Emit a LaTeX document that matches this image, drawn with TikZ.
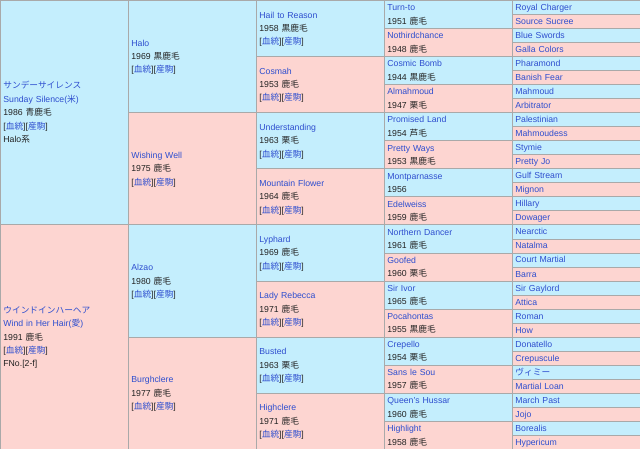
\documentclass[tikz,border=0pt]{standalone}
\usepackage{fontspec}
\setmainfont{Liberation Sans}
\newfontfamily\jp{Noto Sans CJK JP}
\usepackage{xcolor}
\usepackage{tikz}
\usetikzlibrary{positioning}
\definecolor{sireblue}{HTML}{C4EEFD}
\definecolor{dampink}{HTML}{FDD5D1}
\definecolor{gridgray}{HTML}{A9A9A9}
\definecolor{lnk}{HTML}{2E4ECF}
\definecolor{txt}{HTML}{222222}
\newcommand{\lk}[1]{\textcolor{lnk}{#1}}
\newcommand{\bt}{[\lk{\jp 血統}][\lk{\jp 産駒}]}
\newcommand{\yc}[2]{#1 {\jp #2}}
\tikzset{
  cell/.style={rectangle, draw=gridgray, line width=0.8pt, anchor=north west, inner xsep=3pt, inner ysep=0pt, align=left, text=txt, font=\fontsize{8.7}{13.4}\selectfont,
    execute at begin node={\rule{0pt}{9pt}}, execute at end node={\rule[-3pt]{0pt}{0pt}}},
  sire/.style={cell, fill=sireblue},
  dam/.style={cell, fill=dampink},
  gOne/.style={text width=122pt, minimum height=224.5pt},
  gTwo/.style={text width=122pt, minimum height=112.25pt},
  gThree/.style={text width=122pt, minimum height=56.125pt},
  gFour/.style={text width=122pt, minimum height=28.0625pt},
  gFive/.style={text width=122pt, minimum height=14.03125pt}
}
\begin{document}
\begin{tikzpicture}[x=1pt, y=-14.03125pt]
  \useasboundingbox (0,0) rectangle (640,32);
  % first generation
  \node[sire, gOne] (sunday) at (0,0) {\lk{\jp サンデーサイレンス}\\\lk{Sunday Silence({\jp 米})}\\\yc{1986}{青鹿毛}\\\bt\\Halo{\jp 系}};
  \node[dam, gOne] (wind) at (0,16) {\lk{\jp ウインドインハーヘア}\\\lk{Wind in Her Hair({\jp 愛})}\\\yc{1991}{鹿毛}\\\bt\\FNo.[2-f]};
  % second generation
  \node[sire, gTwo] (halo) at (128,0) {\lk{Halo}\\\yc{1969}{黒鹿毛}\\\bt};
  \node[dam, gTwo] (wishing) at (128,8) {\lk{Wishing Well}\\\yc{1975}{鹿毛}\\\bt};
  \node[sire, gTwo] (alzao) at (128,16) {\lk{Alzao}\\\yc{1980}{鹿毛}\\\bt};
  \node[dam, gTwo] (burgh) at (128,24) {\lk{Burghclere}\\\yc{1977}{鹿毛}\\\bt};
  % third generation
  \node[sire, gThree] (hail) at (256,0) {\lk{Hail to Reason}\\\yc{1958}{黒鹿毛}\\\bt};
  \node[dam, gThree] (cosmah) at (256,4) {\lk{Cosmah}\\\yc{1953}{鹿毛}\\\bt};
  \node[sire, gThree] (underst) at (256,8) {\lk{Understanding}\\\yc{1963}{栗毛}\\\bt};
  \node[dam, gThree] (mountain) at (256,12) {\lk{Mountain Flower}\\\yc{1964}{鹿毛}\\\bt};
  \node[sire, gThree] (lyphard) at (256,16) {\lk{Lyphard}\\\yc{1969}{鹿毛}\\\bt};
  \node[dam, gThree] (rebecca) at (256,20) {\lk{Lady Rebecca}\\\yc{1971}{鹿毛}\\\bt};
  \node[sire, gThree] (busted) at (256,24) {\lk{Busted}\\\yc{1963}{栗毛}\\\bt};
  \node[dam, gThree] (highclere) at (256,28) {\lk{Highclere}\\\yc{1971}{鹿毛}\\\bt};
  % fourth generation
  \node[sire, gFour] (turnto) at (384,0) {\lk{Turn-to}\\\yc{1951}{鹿毛}};
  \node[dam, gFour] (nothird) at (384,2) {\lk{Nothirdchance}\\\yc{1948}{鹿毛}};
  \node[sire, gFour] (cosmic) at (384,4) {\lk{Cosmic Bomb}\\\yc{1944}{黒鹿毛}};
  \node[dam, gFour] (almah) at (384,6) {\lk{Almahmoud}\\\yc{1947}{栗毛}};
  \node[sire, gFour] (promised) at (384,8) {\lk{Promised Land}\\\yc{1954}{芦毛}};
  \node[dam, gFour] (pretty) at (384,10) {\lk{Pretty Ways}\\\yc{1953}{黒鹿毛}};
  \node[sire, gFour] (montp) at (384,12) {\lk{Montparnasse}\\1956};
  \node[dam, gFour] (edel) at (384,14) {\lk{Edelweiss}\\\yc{1959}{鹿毛}};
  \node[sire, gFour] (northern) at (384,16) {\lk{Northern Dancer}\\\yc{1961}{鹿毛}};
  \node[dam, gFour] (goofed) at (384,18) {\lk{Goofed}\\\yc{1960}{栗毛}};
  \node[sire, gFour] (ivor) at (384,20) {\lk{Sir Ivor}\\\yc{1965}{鹿毛}};
  \node[dam, gFour] (pocah) at (384,22) {\lk{Pocahontas}\\\yc{1955}{黒鹿毛}};
  \node[sire, gFour] (crepello) at (384,24) {\lk{Crepello}\\\yc{1954}{栗毛}};
  \node[dam, gFour] (sans) at (384,26) {\lk{Sans le Sou}\\\yc{1957}{鹿毛}};
  \node[sire, gFour] (hussar) at (384,28) {\lk{Queen's Hussar}\\\yc{1960}{鹿毛}};
  \node[dam, gFour] (highlight) at (384,30) {\lk{Highlight}\\\yc{1958}{鹿毛}};
  % fifth generation
  \node[sire, gFive] (royal) at (512,0) {\lk{Royal Charger}};
  \node[dam, gFive] (source) at (512,1) {\lk{Source Sucree}};
  \node[sire, gFive] (blue) at (512,2) {\lk{Blue Swords}};
  \node[dam, gFive] (galla) at (512,3) {\lk{Galla Colors}};
  \node[sire, gFive] (pharamond) at (512,4) {\lk{Pharamond}};
  \node[dam, gFive] (banish) at (512,5) {\lk{Banish Fear}};
  \node[sire, gFive] (mahmoud) at (512,6) {\lk{Mahmoud}};
  \node[dam, gFive] (arbit) at (512,7) {\lk{Arbitrator}};
  \node[sire, gFive] (palest) at (512,8) {\lk{Palestinian}};
  \node[dam, gFive] (mahmoudess) at (512,9) {\lk{Mahmoudess}};
  \node[sire, gFive] (stymie) at (512,10) {\lk{Stymie}};
  \node[dam, gFive] (prettyjo) at (512,11) {\lk{Pretty Jo}};
  \node[sire, gFive] (gulf) at (512,12) {\lk{Gulf Stream}};
  \node[dam, gFive] (mignon) at (512,13) {\lk{Mignon}};
  \node[sire, gFive] (hillary) at (512,14) {\lk{Hillary}};
  \node[dam, gFive] (dowager) at (512,15) {\lk{Dowager}};
  \node[sire, gFive] (nearctic) at (512,16) {\lk{Nearctic}};
  \node[dam, gFive] (natalma) at (512,17) {\lk{Natalma}};
  \node[sire, gFive] (court) at (512,18) {\lk{Court Martial}};
  \node[dam, gFive] (barra) at (512,19) {\lk{Barra}};
  \node[sire, gFive] (gaylord) at (512,20) {\lk{Sir Gaylord}};
  \node[dam, gFive] (attica) at (512,21) {\lk{Attica}};
  \node[sire, gFive] (roman) at (512,22) {\lk{Roman}};
  \node[dam, gFive] (how) at (512,23) {\lk{How}};
  \node[sire, gFive] (donatello) at (512,24) {\lk{Donatello}};
  \node[dam, gFive] (crepus) at (512,25) {\lk{Crepuscule}};
  \node[sire, gFive] (vimy) at (512,26) {\lk{\jp ヴィミー}};
  \node[dam, gFive] (martial) at (512,27) {\lk{Martial Loan}};
  \node[sire, gFive] (march) at (512,28) {\lk{March Past}};
  \node[dam, gFive] (jojo) at (512,29) {\lk{Jojo}};
  \node[sire, gFive] (borealis) at (512,30) {\lk{Borealis}};
  \node[dam, gFive] (hyper) at (512,31) {\lk{Hypericum}};
\end{tikzpicture}
\end{document}
